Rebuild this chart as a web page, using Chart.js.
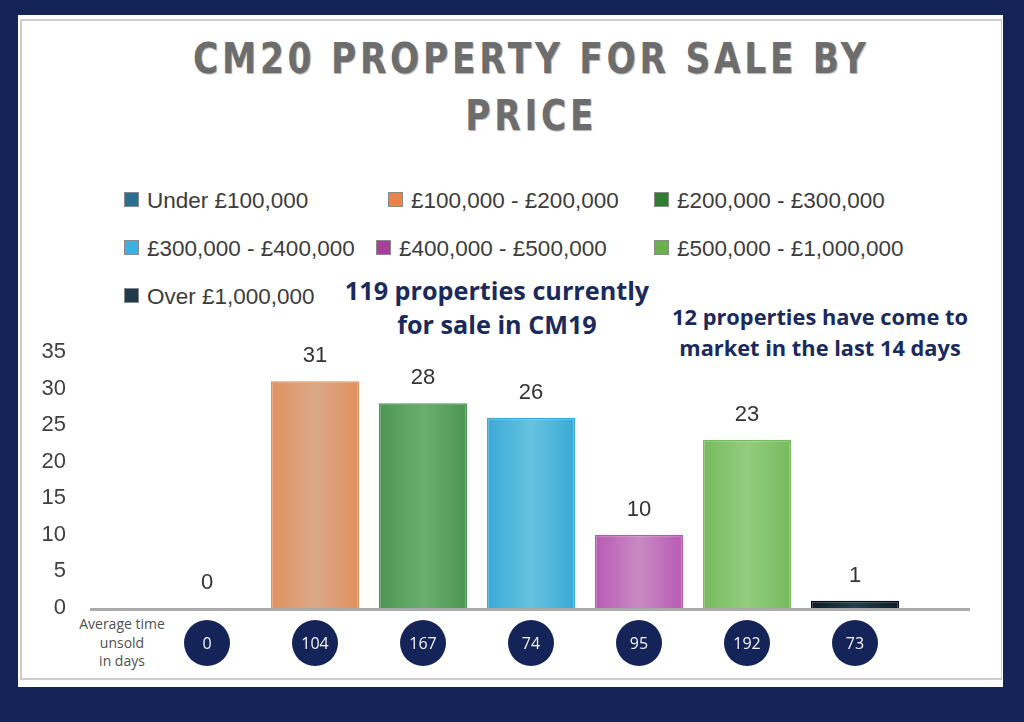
<!DOCTYPE html>
<html>
<head>
<meta charset="utf-8">
<script src="https://cdn.jsdelivr.net/npm/chart.js@4.4.1/dist/chart.umd.min.js"></script>
<style>
  html, body { margin:0; padding:0; }
  body { width:1024px; height:722px; background:#142459; position:relative; overflow:hidden; font-family:'Liberation Sans', Arial, sans-serif; }
  #panel { position:absolute; left:18px; top:15px; width:985px; height:672px; background:#fff; }
  #frame { position:absolute; left:20px; top:19px; width:979px; height:657px; border:2px solid #cdcdcd; border-right-width:1px; }
  #chart { position:absolute; left:0; top:0; }
  #titulo { position:absolute; left:-3px; width:1070px; top:30px; text-align:center; color:#6d6d6d;
            font-family:'DejaVu Sans',sans-serif; font-weight:bold; font-size:42px; line-height:57px; letter-spacing:4.5px;
            transform:scaleX(0.82); transform-origin:531px 0;
            text-shadow:1px 1px 1px rgba(0,0,0,0.3); }
  .ley { position:absolute; font-size:22.5px; color:#3c3c3c; white-space:nowrap; line-height:26px; }
  .ley i { display:inline-block; width:13px; height:13px; border:1px solid #8a8a8a; margin-right:8px; vertical-align:1px; }
  .nota { position:absolute; color:#1a2a5c; font-family:'Open Sans','Noto Sans',sans-serif; font-weight:bold; text-align:center; white-space:nowrap; }
  #promedio { position:absolute; left:72px; width:100px; top:615px; text-align:center; font-family:'Open Sans','Noto Sans',sans-serif;
              font-size:14px; line-height:18.5px; color:#505050; }
</style>
</head>
<body>
<div id="panel"></div>
<div id="frame"></div>
<div id="titulo">CM20 PROPERTY FOR SALE BY<br>PRICE</div>
<div id="leyenda"></div>
<div class="nota" style="left:497px; top:273px; transform:translateX(-50%); font-size:25.2px; line-height:34px;">119 properties currently<br>for sale in CM19</div>
<div class="nota" style="left:820px; top:301px; transform:translateX(-50%); font-size:21.8px; line-height:31px;">12 properties have come to<br>market in the last 14 days</div>
<div id="promedio">Average time<br>unsold<br>in days</div>
<canvas id="chart" width="1024" height="722"></canvas>

<script>
// ── Datos ─────────────────────────────────────────────────────────────────────
const RANGOS   = ['Under £100,000', '£100,000 - £200,000', '£200,000 - £300,000', '£300,000 - £400,000',
                  '£400,000 - £500,000', '£500,000 - £1,000,000', 'Over £1,000,000'];
const CANTIDAD = [0, 31, 28, 26, 10, 23, 1];
const DIAS     = [0, 104, 167, 74, 95, 192, 73];
const TICKS_Y  = [0, 5, 10, 15, 20, 25, 30, 35];

// colores: leyenda, borde de barra, centro de barra
const COL_LEY    = ['#2a6f8f', '#e8834a', '#2e7d32', '#3fb0e0', '#a6409a', '#6ab04c', '#1f3a4a'];
const COL_BORDE  = ['#2a6f8f', '#e0915e', '#4c9552', '#3aa9d5', '#b75bb1', '#76bb5e', '#0e1c24'];
const COL_CENTRO = ['#2a6f8f', '#dcaa8a', '#6aaf6e', '#66c3e0', '#c98ac5', '#94cd7e', '#22404f'];
const navy = '#142459';

// ── Leyenda ───────────────────────────────────────────────────────────────────
const posLey = [[124,188],[388,188],[654,188],[124,236],[376,236],[654,236],[124,284]];
const ley = document.getElementById('leyenda');
RANGOS.forEach((r, i) => {
    const d = document.createElement('div');
    d.className = 'ley';
    d.style.left = posLey[i][0] + 'px';
    d.style.top  = posLey[i][1] + 'px';
    d.innerHTML = '<i style="background:' + COL_LEY[i] + '"></i>' + r;
    ley.appendChild(d);
});

// ── Gráfica ───────────────────────────────────────────────────────────────────
Chart.defaults.font.family = "'Liberation Sans', Arial, sans-serif";

function degradado(ctx) {
    const chart = ctx.chart, i = ctx.dataIndex;
    if (!chart.chartArea) return COL_CENTRO[i];
    const xs = chart.scales.x;
    const x  = xs.getPixelForValue(i);
    const w  = (xs.width / RANGOS.length) * 0.815;
    const g  = chart.ctx.createLinearGradient(x - w/2, 0, x + w/2, 0);
    g.addColorStop(0, COL_BORDE[i]);
    g.addColorStop(0.5, COL_CENTRO[i]);
    g.addColorStop(1, COL_BORDE[i]);
    return g;
}

new Chart(document.getElementById('chart'), {
    type: 'bar',
    data: { labels: RANGOS, datasets: [{
        data: CANTIDAD,
        backgroundColor: degradado,
        borderColor: COL_BORDE.map((c, i) => i === 6 ? '#05090c' : c),
        borderWidth: 1.5,
        categoryPercentage: 1,
        barPercentage: 0.815
    }]},
    options: {
        responsive: false,
        animation: false,
        layout: { padding: { left: 0, right: 115, top: 352, bottom: 114 } },
        plugins: { legend: { display: false }, tooltip: { enabled: false } },
        scales: {
            x: { display: false },
            y: {
                min: 0, max: 35,
                afterFit: s => { s.width = 153; },
                afterBuildTicks: s => { s.ticks = TICKS_Y.map(v => ({ value: v })); },
                grid: { display: false, drawTicks: false },
                border: { display: false },
                ticks: { padding: 87, color: '#404040', font: { size: 22 } }
            }
        }
    },
    plugins: [{ id: 'extras',
        beforeDatasetsDraw(chart) {
            // línea base, más ancha que el área de barras
            const { ctx, chartArea } = chart;
            const y0 = chart.scales.y.getPixelForValue(0);
            ctx.save();
            ctx.strokeStyle = '#ababab';
            ctx.lineWidth = 3;
            ctx.beginPath();
            ctx.moveTo(chartArea.left - 63, y0 + 1.5);
            ctx.lineTo(chartArea.right + 61, y0 + 1.5);
            ctx.stroke();
            ctx.restore();
        },
        afterDatasetsDraw(chart) {
            const { ctx } = chart;
            ctx.save();
            ctx.textAlign = 'center';
            ctx.textBaseline = 'alphabetic';
            ctx.font = '22px "Liberation Sans", Arial, sans-serif';
            ctx.fillStyle = '#333';
            chart.getDatasetMeta(0).data.forEach((bar, i) => {
                ctx.fillText(CANTIDAD[i], bar.x, bar.y - 19);
            });
            // círculos con días promedio
            chart.getDatasetMeta(0).data.forEach((bar, i) => {
                ctx.beginPath();
                ctx.fillStyle = navy;
                ctx.arc(bar.x, 643, 23, 0, Math.PI * 2);
                ctx.fill();
                ctx.fillStyle = '#f4f4f4';
                ctx.font = '16px "Open Sans", "Noto Sans", sans-serif';
                ctx.textBaseline = 'middle';
                ctx.fillText(DIAS[i], bar.x, 644);
            });
            ctx.restore();
        }
    }]
});
</script>
</body>
</html>
